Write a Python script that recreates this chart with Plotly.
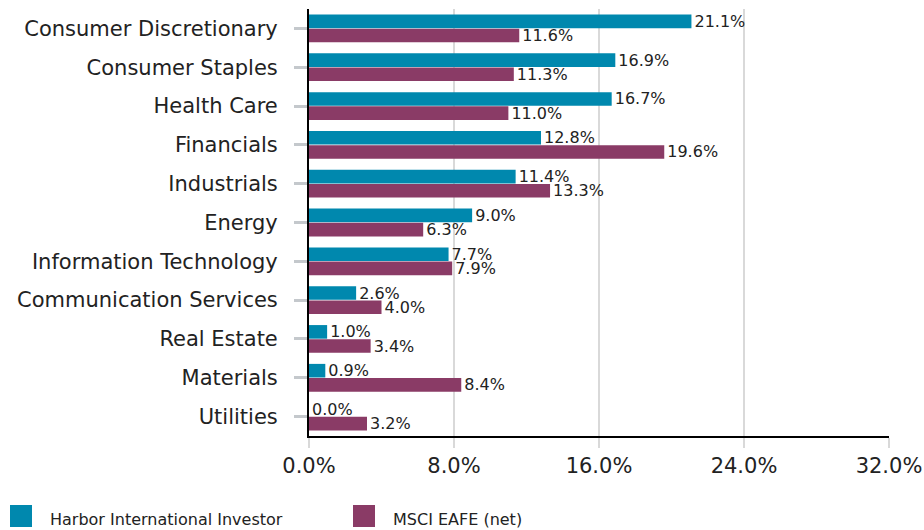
import plotly.graph_objects as go

sectors = [
    "Consumer Discretionary", "Consumer Staples", "Health Care", "Financials",
    "Industrials", "Energy", "Information Technology", "Communication Services",
    "Real Estate", "Materials", "Utilities",
]
harbor = [21.1, 16.9, 16.7, 12.8, 11.4, 9.0, 7.7, 2.6, 1.0, 0.9, 0.0]
eafe = [11.6, 11.3, 11.0, 19.6, 13.3, 6.3, 7.9, 4.0, 3.4, 8.4, 3.2]
x_ticks = [0, 8, 16, 24, 32]
x_tick_text = ["0.0%", "8.0%", "16.0%", "24.0%", "32.0%"]

TEAL = "#0088AE"
PLUM = "#8A3B66"
FONT = "DejaVu Sans"
TXT = "#222222"

series = [
    ("Harbor International Investor", harbor, TEAL),
    ("MSCI EAFE (net)", eafe, PLUM),
]

fig = go.Figure()
for name, vals, color in series:
    fig.add_trace(go.Bar(
        y=sectors, x=vals, name=name, orientation="h",
        marker=dict(color=color, line=dict(width=0)),
        text=[f"{v:.1f}%" for v in vals],
        textposition="outside",
        constraintext="none",
        textfont=dict(family=FONT, size=16, color=TXT),
        cliponaxis=False,
        showlegend=False,
    ))

# legend drawn below the chart: a square swatch plus label per series
PLOT_L, PLOT_W, PLOT_B, PLOT_H = 309, 580, 436, 427
legend_x = [10, 353]
SW = 22
shapes = []
annotations = []
for (name, _, color), lx in zip(series, legend_x):
    shapes.append(dict(
        type="rect", xref="paper", yref="paper",
        x0=(lx - PLOT_L) / PLOT_W, x1=(lx + SW - PLOT_L) / PLOT_W,
        y0=-(505 - PLOT_B) / PLOT_H, y1=-(505 + SW - PLOT_B) / PLOT_H,
        fillcolor=color, line=dict(width=0),
    ))
    annotations.append(dict(
        text=name, xref="paper", yref="paper",
        x=(lx + 38 - PLOT_L) / PLOT_W, y=-(519 - PLOT_B) / PLOT_H,
        xanchor="left", yanchor="middle", showarrow=False,
        font=dict(family=FONT, size=16, color=TXT),
    ))

fig.update_layout(
    width=924, height=530,
    margin=dict(l=PLOT_L, r=924 - PLOT_L - PLOT_W, t=9, b=530 - 9 - PLOT_H),
    paper_bgcolor="white", plot_bgcolor="white",
    barmode="group", bargap=0.27, bargroupgap=0.04,
    font=dict(family=FONT, color=TXT),
    shapes=shapes, annotations=annotations,
)
fig.update_xaxes(
    range=[0, 32], tickvals=x_ticks, ticktext=x_tick_text,
    showgrid=True, gridcolor="#d9d9d9", gridwidth=2,
    showline=True, linecolor="black", linewidth=2,
    ticks="outside", ticklen=10, tickcolor="#d9d9d9", tickwidth=2,
    tickfont=dict(family=FONT, size=21, color=TXT),
    zeroline=False, automargin=False,
)
fig.update_yaxes(
    autorange="reversed",
    showline=True, linecolor="black", linewidth=2,
    ticks="outside", ticklen=13, tickcolor="#c4c8cc", tickwidth=3,
    ticklabelstandoff=12,
    tickfont=dict(family=FONT, size=21, color=TXT),
    showgrid=False, automargin=False,
)

fig.write_html("out.html")
